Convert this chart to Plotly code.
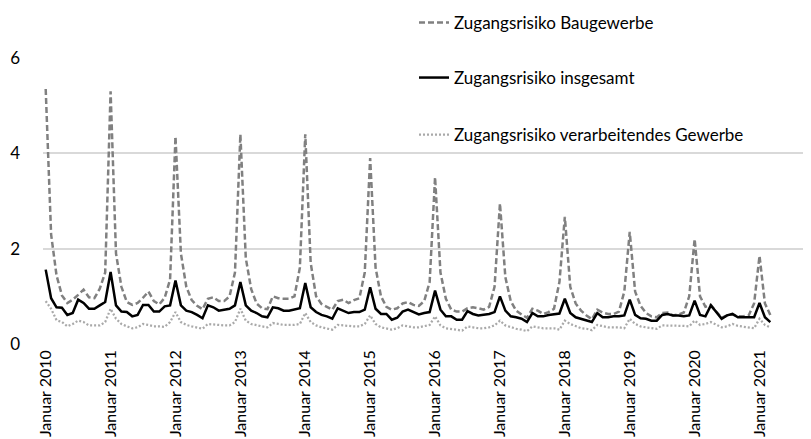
import plotly.graph_objects as go

# Monatswerte Januar 2010 bis März 2021
jahre = ['Januar 2010', 'Januar 2011', 'Januar 2012', 'Januar 2013', 'Januar 2014', 'Januar 2015',
         'Januar 2016', 'Januar 2017', 'Januar 2018', 'Januar 2019', 'Januar 2020', 'Januar 2021']

baugewerbe = [
    5.35, 2.30, 1.44, 1.02, 0.86, 0.93, 1.03, 1.14, 0.98, 0.96, 1.16, 1.50,
    5.30, 1.90, 1.20, 0.88, 0.82, 0.86, 0.97, 1.10, 0.90, 0.83, 0.97, 1.35,
    4.35, 1.90, 1.20, 0.92, 0.80, 0.73, 0.95, 0.98, 0.90, 0.90, 1.00, 1.50,
    4.40, 1.80, 1.15, 0.85, 0.75, 0.73, 1.00, 0.96, 0.95, 0.95, 1.00, 1.60,
    4.40, 1.70, 1.00, 0.84, 0.78, 0.72, 0.90, 0.93, 0.86, 0.92, 0.96, 1.50,
    3.90, 1.60, 1.00, 0.78, 0.72, 0.75, 0.85, 0.88, 0.82, 0.80, 0.90, 1.30,
    3.50, 1.50, 0.95, 0.72, 0.68, 0.68, 0.75, 0.77, 0.75, 0.72, 0.78, 1.20,
    2.95, 1.40, 0.90, 0.70, 0.62, 0.55, 0.74, 0.70, 0.63, 0.67, 0.74, 1.30,
    2.67, 1.20, 0.85, 0.70, 0.60, 0.52, 0.72, 0.66, 0.63, 0.63, 0.68, 1.10,
    2.35, 1.10, 0.80, 0.65, 0.58, 0.56, 0.65, 0.66, 0.60, 0.62, 0.66, 1.00,
    2.20, 1.00, 0.78, 0.82, 0.68, 0.55, 0.60, 0.62, 0.58, 0.58, 0.60, 0.85,
    1.85, 0.85, 0.61,
]

insgesamt = [
    1.56, 0.96, 0.77, 0.76, 0.61, 0.65, 0.93, 0.86, 0.74, 0.74, 0.81, 0.88,
    1.51, 0.81, 0.68, 0.67, 0.58, 0.61, 0.82, 0.82, 0.68, 0.68, 0.79, 0.81,
    1.33, 0.81, 0.70, 0.67, 0.61, 0.54, 0.81, 0.77, 0.70, 0.72, 0.74, 0.81,
    1.30, 0.81, 0.70, 0.65, 0.58, 0.56, 0.77, 0.75, 0.70, 0.70, 0.72, 0.75,
    1.28, 0.77, 0.67, 0.61, 0.58, 0.53, 0.75, 0.70, 0.65, 0.67, 0.67, 0.72,
    1.19, 0.74, 0.63, 0.63, 0.51, 0.55, 0.68, 0.72, 0.67, 0.62, 0.65, 0.67,
    1.12, 0.72, 0.58, 0.58, 0.51, 0.51, 0.69, 0.63, 0.60, 0.61, 0.63, 0.67,
    1.00, 0.70, 0.58, 0.56, 0.53, 0.46, 0.65, 0.58, 0.58, 0.61, 0.62, 0.64,
    0.95, 0.65, 0.56, 0.53, 0.49, 0.46, 0.65, 0.56, 0.56, 0.58, 0.58, 0.60,
    0.93, 0.61, 0.54, 0.53, 0.49, 0.49, 0.61, 0.63, 0.60, 0.60, 0.58, 0.60,
    0.91, 0.61, 0.58, 0.81, 0.67, 0.53, 0.60, 0.63, 0.56, 0.56, 0.56, 0.56,
    0.86, 0.56, 0.46,
]

verarbeitend = [
    0.90, 0.74, 0.50, 0.46, 0.37, 0.42, 0.49, 0.46, 0.39, 0.39, 0.39, 0.46,
    0.74, 0.53, 0.42, 0.37, 0.33, 0.35, 0.42, 0.40, 0.37, 0.37, 0.36, 0.46,
    0.67, 0.46, 0.40, 0.37, 0.35, 0.32, 0.42, 0.41, 0.39, 0.39, 0.39, 0.46,
    0.74, 0.49, 0.42, 0.39, 0.37, 0.35, 0.44, 0.42, 0.40, 0.40, 0.40, 0.42,
    0.65, 0.46, 0.39, 0.35, 0.33, 0.30, 0.40, 0.39, 0.37, 0.37, 0.37, 0.42,
    0.60, 0.42, 0.35, 0.32, 0.30, 0.33, 0.39, 0.37, 0.35, 0.35, 0.37, 0.40,
    0.58, 0.39, 0.33, 0.32, 0.30, 0.28, 0.37, 0.35, 0.33, 0.33, 0.35, 0.39,
    0.49, 0.39, 0.35, 0.32, 0.30, 0.27, 0.37, 0.35, 0.33, 0.33, 0.33, 0.30,
    0.49, 0.42, 0.37, 0.33, 0.32, 0.29, 0.40, 0.37, 0.35, 0.35, 0.35, 0.33,
    0.53, 0.42, 0.37, 0.35, 0.33, 0.32, 0.39, 0.39, 0.39, 0.39, 0.38, 0.37,
    0.49, 0.40, 0.42, 0.46, 0.40, 0.35, 0.37, 0.42, 0.38, 0.36, 0.35, 0.33,
    0.53, 0.40, 0.35,
]

schrift = dict(family='Lato, Calibri, sans-serif', size=17, color='#000000')
achsenschrift = dict(family='Lato, Calibri, sans-serif', size=16, color='#000000')

monate = list(range(len(baugewerbe)))
tick_pos = [i * 12 for i in range(len(jahre))]

fig = go.Figure()

fig.add_trace(go.Scatter(
    x=monate, y=baugewerbe, mode='lines', name='Zugangsrisiko Baugewerbe',
    line=dict(color='#808080', width=2.5, dash='6px,3px'), legend='legend'
))
fig.add_trace(go.Scatter(
    x=monate, y=insgesamt, mode='lines', name='Zugangsrisiko insgesamt',
    line=dict(color='#000000', width=2.5), legend='legend2'
))
fig.add_trace(go.Scatter(
    x=monate, y=verarbeitend, mode='lines', name='Zugangsrisiko verarbeitendes Gewerbe',
    line=dict(color='#a9a9a9', width=2.25, dash='2px,2px'), legend='legend3'
))

leg = dict(xref='container', yref='container', x=406 / 811, xanchor='left', yanchor='middle',
           bgcolor='rgba(0,0,0,0)', font=schrift, itemwidth=30)

fig.update_layout(
    width=811, height=439,
    margin=dict(l=35, r=0, t=50, b=103, autoexpand=False),
    plot_bgcolor='white', paper_bgcolor='white',
    font=schrift,
    showlegend=True,
    legend=dict(leg, y=1 - 15 / 439),
    legend2=dict(leg, y=1 - 70 / 439),
    legend3=dict(leg, y=1 - 127 / 439),
    xaxis=dict(
        range=[-0.5, 143], tickvals=tick_pos, ticktext=jahre, tickangle=-90,
        showgrid=False, zeroline=False, showline=False, ticks='',
        tickfont=achsenschrift, ticklabelstandoff=2,
    ),
    yaxis=dict(
        range=[0, 6], tickvals=[0, 2, 4, 6], showgrid=True, gridcolor='#d9d9d9', gridwidth=1.5,
        zeroline=False, showline=False, ticks='', tickfont=schrift, ticklabelstandoff=22,
    ),
)

fig.write_html('out.html')
